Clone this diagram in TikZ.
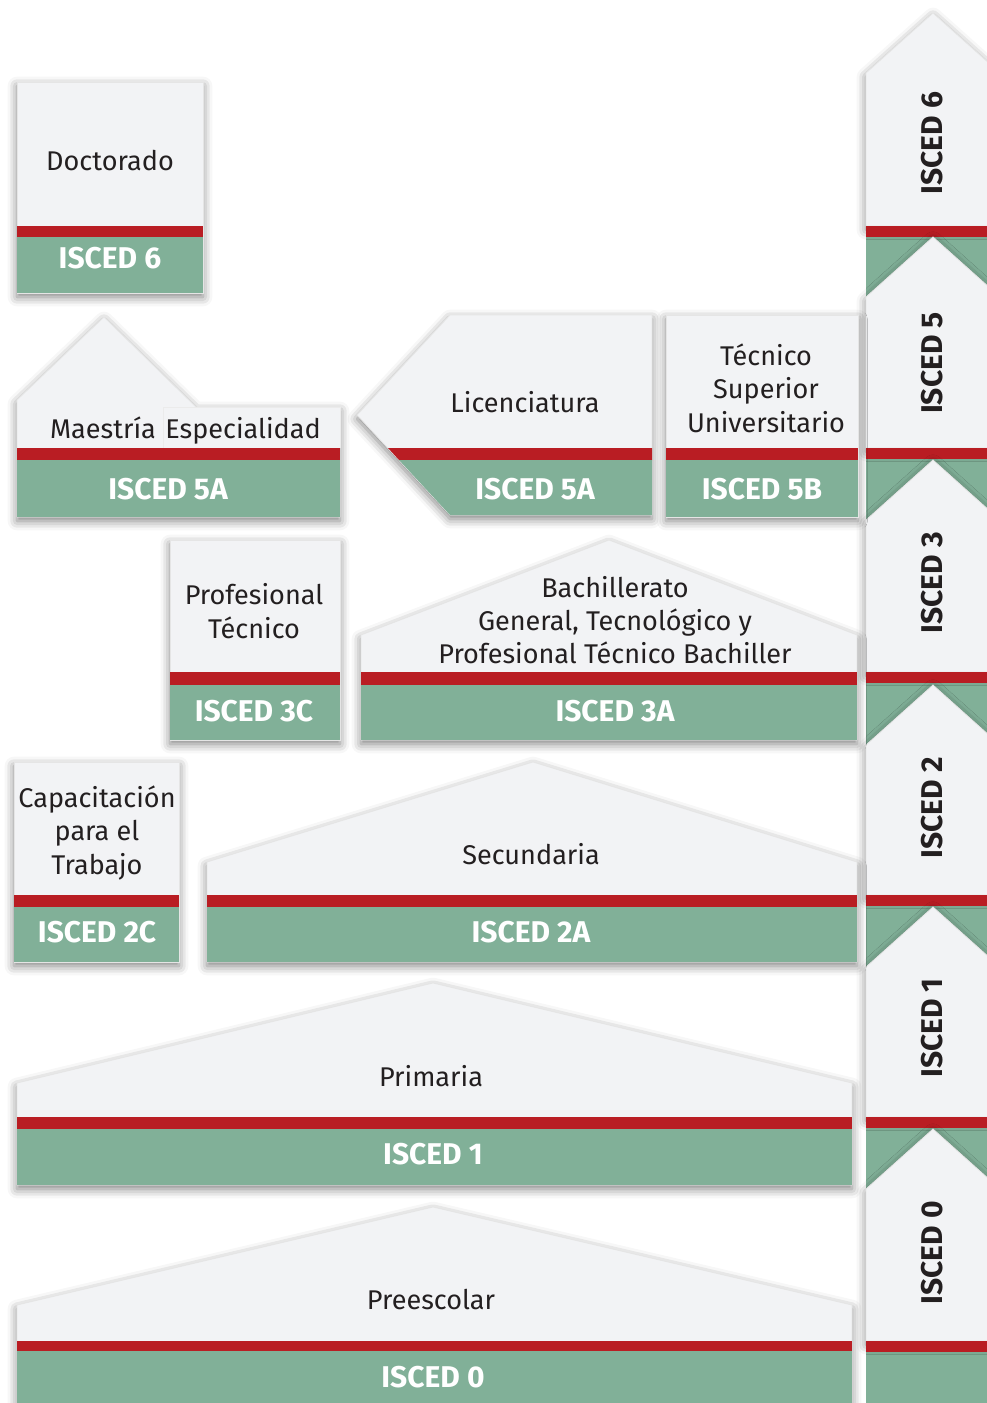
\documentclass[tikz,border=0pt]{standalone}
\usepackage{fontspec}
\setmainfont{Fira Sans}
\usepackage{tikz}
\usetikzlibrary{shadows.blur}

\definecolor{boxgray}{HTML}{F2F3F5}
\definecolor{iscedred}{HTML}{B91D23}
\definecolor{iscedgreen}{HTML}{81B098}
\definecolor{inkgray}{HTML}{231F20}

\begin{document}
\begin{tikzpicture}[x=0.75pt, y=-0.75pt,
  box/.style={fill=boxgray, draw=black!10, line width=0.6pt,
    blur shadow={shadow xshift=0pt, shadow yshift=-3pt,
      shadow blur radius=7pt, shadow opacity=50}},
  red band/.style={fill=iscedred},
  green band/.style={fill=iscedgreen},
  level/.style={font=\fontsize{20.3}{25}\selectfont, text=inkgray,
    align=center, inner sep=0pt},
  isced/.style={font=\bfseries\fontsize{22.5}{26}\selectfont, text=white,
    inner sep=0pt},
  side/.style={font=\bfseries\fontsize{22.5}{26}\selectfont, text=inkgray,
    rotate=90, inner sep=0pt}]

\useasboundingbox (0,0) rectangle (987,1403);
\clip (0,0) rectangle (987,1403);

% right column
\fill[green band] (866,236) rectangle (1000,1403);
\foreach \l/\p/\r/\t in {6/13/226/143, 5/237/448/363, 3/460/672/583,
                         2/685/895/808, 1/907/1117/1028, 0/1129/1341/1253}
{
  \path[box] (866,\r) -- (866,\p+60) -- (933,\p) -- (1000,\p+60)
    -- (1000,\r) -- cycle;
  \fill[red band] (866,\r) rectangle (1000,\r+11);
  \node[side] (side-\l) at (932,\t) {ISCED \l};
}

% doctorado
\path[box] (17,82) rectangle (203,293);
\fill[red band] (17,226) rectangle (203,237);
\fill[green band] (17,237) rectangle (203,293);
\node[level] (doctorado) at (110,161) {Doctorado};
\node[isced] (doctorado-isced) at (110,258) {ISCED 6};

% maestria y especialidad
\path[box] (17,448) -- (17,400) -- (104,317) -- (196,407) -- (340,407)
  -- (340,517) -- (17,517) -- cycle;
\path[fill=boxgray, draw=black!8] (163,448) -- (163,407) -- (340,407)
  -- (340,448);
\fill[red band] (17,448) rectangle (340,460);
\fill[green band] (17,460) rectangle (340,517);
\node[level] (maestria) at (103,428) {Maestría};
\node[level] (especialidad) at (243,431) {Especialidad};
\node[isced] (maestria-isced) at (168,489) {ISCED 5A};

% licenciatura
\path[box] (357,415) -- (450,315) -- (652,315) -- (652,515) -- (450,515)
  -- cycle;
\fill[red band] (388,448) -- (652,448) -- (652,460) -- (399,460) -- cycle;
\fill[green band] (399,460) -- (652,460) -- (652,515) -- (450,515) -- cycle;
\node[level] (licenciatura) at (525,402) {Licenciatura};
\node[isced] (licenciatura-isced) at (535,489) {ISCED 5A};

% tecnico superior
\path[box] (666,315) rectangle (858,517);
\fill[red band] (666,448) rectangle (858,460);
\fill[green band] (666,460) rectangle (858,517);
\node[level] (tsu) at (766,388) {Técnico\\Superior\\Universitario};
\node[isced] (tsu-isced) at (762,489) {ISCED 5B};

% profesional tecnico
\path[box] (170,540) rectangle (340,740);
\fill[red band] (170,672) rectangle (340,685);
\fill[green band] (170,685) rectangle (340,740);
\node[level] (profesional) at (254,611) {Profesional\\Técnico};
\node[isced] (profesional-isced) at (254,711) {ISCED 3C};

% bachillerato
\path[box] (361,740) -- (361,635) -- (609,540) -- (857,635) -- (857,740)
  -- cycle;
\fill[red band] (361,672) rectangle (857,685);
\fill[green band] (361,685) rectangle (857,740);
\node[level] (bachillerato) at (615,620)
  {Bachillerato\\General, Tecnológico y\\Profesional Técnico Bachiller};
\node[isced] (bachillerato-isced) at (615,711) {ISCED 3A};

% capacitacion
\path[box] (14,762) rectangle (179,962);
\fill[red band] (14,895) rectangle (179,907);
\fill[green band] (14,907) rectangle (179,962);
\node[level] (capacitacion) at (97,833) {Capacitación\\para el\\Trabajo};
\node[isced] (capacitacion-isced) at (97,932) {ISCED 2C};

% secundaria
\path[box] (207,962) -- (207,862) -- (533,762) -- (857,862) -- (857,962)
  -- cycle;
\fill[red band] (207,895) rectangle (857,907);
\fill[green band] (207,907) rectangle (857,962);
\node[level] (secundaria) at (531,854) {Secundaria};
\node[isced] (secundaria-isced) at (531,932) {ISCED 2A};

% primaria
\path[box] (17,1185) -- (17,1083) -- (433,983) -- (852,1083) -- (852,1185)
  -- cycle;
\fill[red band] (17,1117) rectangle (852,1129);
\fill[green band] (17,1129) rectangle (852,1185);
\node[level] (primaria) at (431,1076) {Primaria};
\node[isced] (primaria-isced) at (433,1154) {ISCED 1};

% preescolar
\path[box] (17,1410) -- (17,1305) -- (433,1207) -- (852,1305) -- (852,1410)
  -- cycle;
\fill[red band] (17,1341) rectangle (852,1351);
\fill[green band] (17,1351) rectangle (852,1410);
\node[level] (preescolar) at (431,1299) {Preescolar};
\node[isced] (preescolar-isced) at (433,1377) {ISCED 0};

\end{tikzpicture}
\end{document}
